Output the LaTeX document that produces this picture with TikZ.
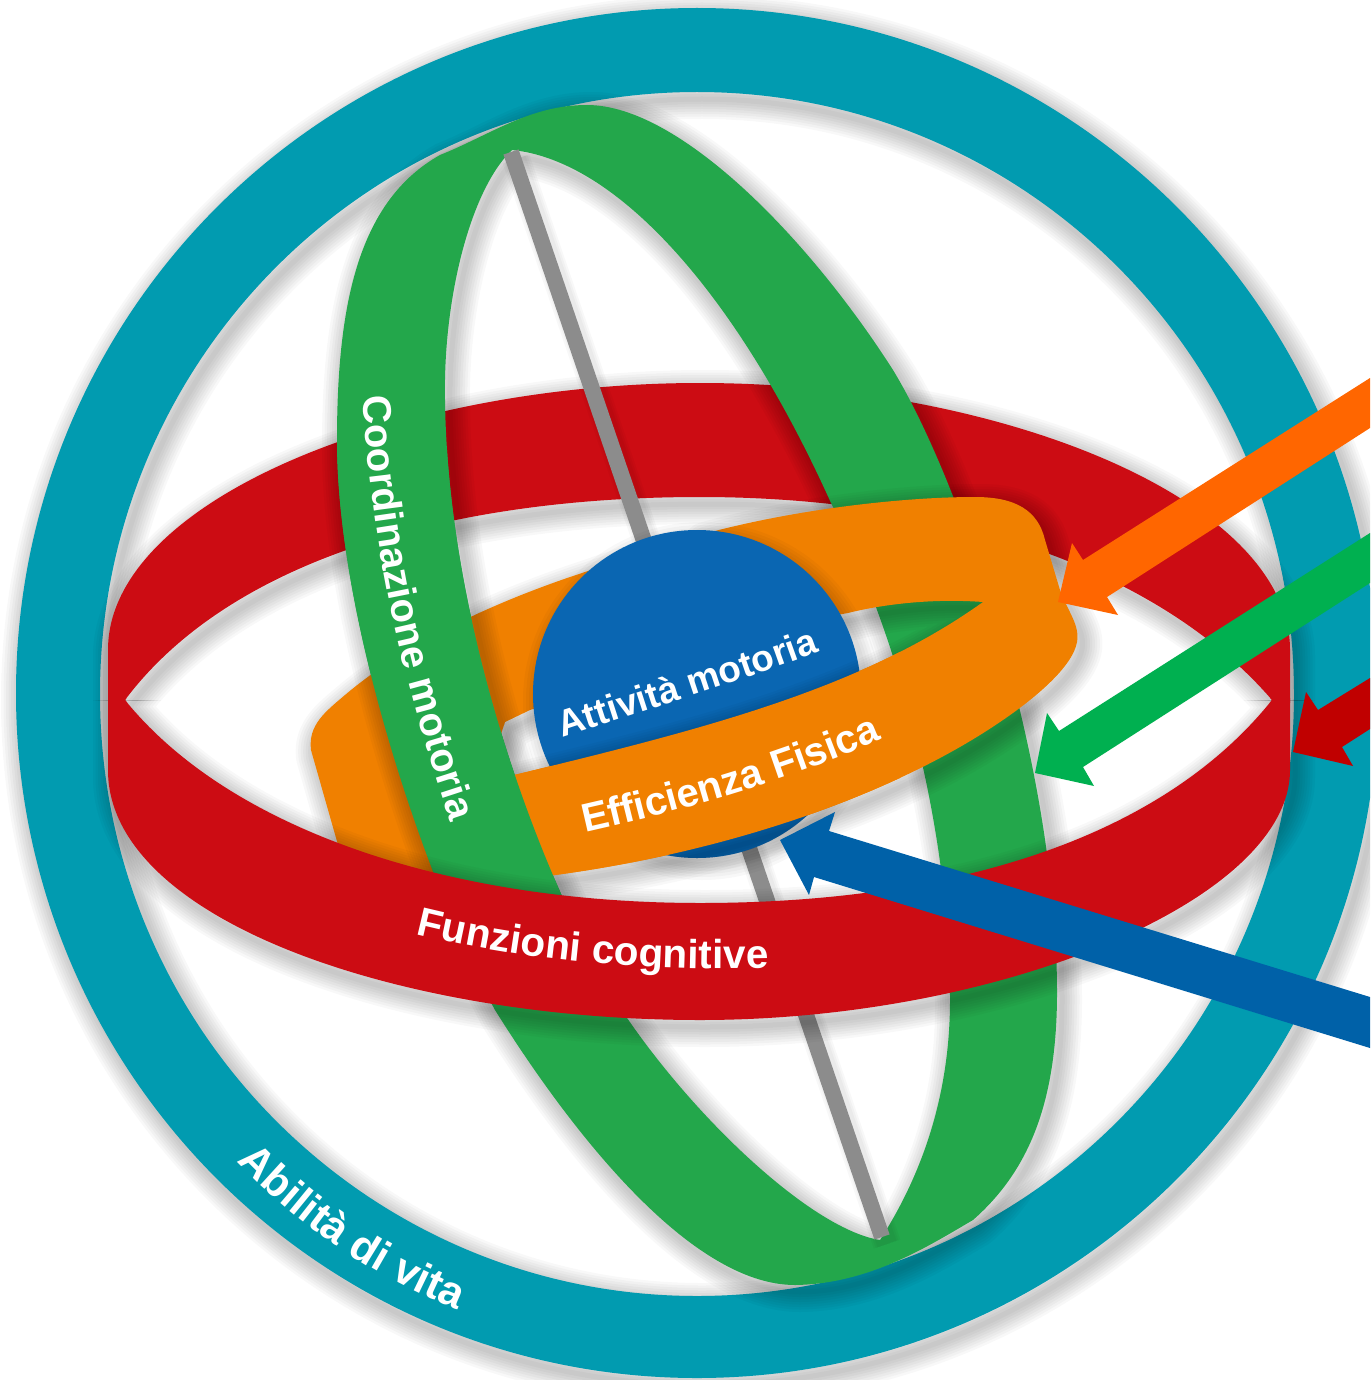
\documentclass[tikz,border=0pt]{standalone}
\usepackage{fontspec}
\setmainfont{Liberation Sans}
\usetikzlibrary{decorations.text}
\definecolor{tealband}{HTML}{019BB0}
\definecolor{redband}{HTML}{CC0C13}
\definecolor{greenband}{HTML}{23A74B}
\definecolor{orangeband}{HTML}{F08000}
\definecolor{blueball}{HTML}{0A66B2}
\definecolor{greyaxis}{HTML}{8C8C8C}
\definecolor{arroworange}{HTML}{FF6600}
\definecolor{arrowgreen}{HTML}{00B050}
\definecolor{arrowred}{HTML}{C00000}
\definecolor{arrowblue}{HTML}{0061A8}
\tikzset{
  shadowink/.style={draw=black,opacity=.028,line join=round,shift={(5,7)}},
  ringfill/.style={even odd rule,draw=none},
  bandlabel/.style={decorate},
}
\newcommand\softshade[1]{\foreach \w in {40,35,30,25,20,15,10,5}{\draw[shadowink,line width=\w pt] #1;}}
\def\tealpath{(697,693) ellipse [x radius=681,y radius=685] (697,694) ellipse [x radius=597,y radius=602]}
\def\redpath{(108,770) -- (108,650) .. controls (108,500) and (400,383) .. (700,383) .. controls (1000,383) and (1290,500) .. (1290,650) -- (1290,770) .. controls (1290,900) and (1000,1020) .. (700,1020) .. controls (400,1020) and (108,920) .. (108,770) -- cycle
 (125,700) .. controls (230,560) and (450,497) .. (700,497) .. controls (950,497) and (1160,570) .. (1272,700) .. controls (1160,840) and (950,903) .. (700,903) .. controls (450,903) and (230,830) .. (125,700) -- cycle}
\def\greenpath{(587,105) .. controls (680,105) and (810,240) .. (893,370) .. controls (960,480) and (1057,760) .. (1057,993) .. controls (1057,1100) and (1030,1170) .. (973,1220) .. controls (930,1245) and (870,1284) .. (795,1285) .. controls (690,1285) and (570,1130) .. (495,1010) .. controls (425,880) and (337,620) .. (337,440) .. controls (337,300) and (360,200) .. (440,155) .. controls (490,135) and (530,105) .. (587,105) -- cycle
 (512,150) .. controls (615,160) and (735,290) .. (831,503) .. controls (900,640) and (950,830) .. (950,1000) .. controls (950,1090) and (925,1170) .. (880,1240) .. controls (815,1230) and (700,1125) .. (625,1015) .. controls (550,900) and (448,640) .. (445,400) .. controls (443,300) and (470,190) .. (512,150) -- cycle}
\def\orangeright{(700,535) .. controls (790,510) and (900,497) .. (975,497) .. controls (1015,497) and (1038,510) .. (1045,540) -- (1060,590) .. controls (1068,612) and (1080,625) .. (1077,642) .. controls (1073,665) and (1040,695) .. (1000,722) .. controls (900,790) and (740,850) .. (555,875) -- (530,878) -- (510,776) .. controls (700,730) and (860,690) .. (983,602) .. controls (930,598) and (880,605) .. (848,613) -- (700,640) -- cycle}
\def\orangeleft{(620,560) -- (582,573) .. controls (500,600) and (410,640) .. (345,695) .. controls (325,712) and (308,725) .. (311,750) -- (348,880) -- (450,885) -- (505,722) -- (530,710) -- (620,680) -- cycle}
\begin{document}
\begin{tikzpicture}[x=1pt,y=-1pt]
\useasboundingbox (0,0) rectangle (1370,1380);
\clip (0,0) rectangle (1370,1380);
\fill[white] (0,0) rectangle (1370,1380);
% teal ring
\softshade{\tealpath}
\fill[tealband,ringfill] \tealpath;
% red ring, back half
\begin{scope}
\clip (0,0) rectangle (1370,700.6);
\softshade{\redpath}
\end{scope}
\begin{scope}
\clip (0,0) rectangle (1370,702);
\fill[redband,ringfill] \redpath;
\end{scope}
% green ring
\softshade{\greenpath}
\fill[greenband,ringfill] \greenpath;
% axis
\foreach \w in {28,24,20}{\draw[shadowink,line width=\w pt] (511,152) -- (882,1237);}
\draw[greyaxis,line width=16pt] (511,152) -- (882,1237);
% orange ribbon
\softshade{\orangeright}
\softshade{\orangeleft}
\fill[orangeband] \orangeright;
\fill[orangeband] \orangeleft;
% ball
\foreach \w in {30,24,18,12,6}{\draw[shadowink,line width=\w pt] (697,694) circle [radius=164];}
\fill[blueball] (697,694) circle [radius=164];
% front of the orange ribbon, over the ball
\begin{scope}
\clip (697,694) circle [radius=164];
\clip (500,726) -- (900,633) -- (900,900) -- (500,900) -- cycle;
\softshade{\orangeright}
\end{scope}
\begin{scope}
\clip (500,726) -- (900,633) -- (900,900) -- (500,900) -- cycle;
\fill[orangeband] \orangeright;
\end{scope}
% left band of the green ring, over the orange ribbon
\begin{scope}
\clip \orangeleft;
\softshade{\greenpath}
\end{scope}
\begin{scope}
\clip (300,450) rectangle (600,900);
\fill[greenband,ringfill] \greenpath;
\end{scope}
% red ring, front half
\begin{scope}
\clip (0,700) rectangle (1370,1380);
\softshade{\redpath}
\end{scope}
\begin{scope}
\clip (0,698) rectangle (1370,1380);
\fill[redband,ringfill] \redpath;
\end{scope}
% labels
\path[bandlabel,decoration={text along path,text align=center,
  text={|\fontsize{40}{40}\selectfont\bfseries\color{white}|Coordinazione motoria}}]
  (361,380) .. controls (373,560) and (402,680) .. (456,838);
\path[bandlabel,decoration={text along path,text align=center,
  text={|\fontsize{40.5}{40.5}\selectfont\bfseries\color{white}|Funzioni cognitive}}]
  (400,930) .. controls (520,962) and (650,972) .. (785,968);
\path[bandlabel,decoration={text along path,text align=center,
  text={|\fontsize{43}{43}\selectfont\bfseries\color{white}|Abilità di vita}}]
  (226,1150) .. controls (294,1225) and (374,1278) .. (472,1316);
\path[bandlabel,decoration={text along path,text align=center,
  text={|\fontsize{37}{37}\selectfont\bfseries\color{white}|Attività motoria}}]
  (550,742) .. controls (640,712) and (730,685) .. (832,647);
\path[bandlabel,decoration={text along path,text align=center,
  text={|\fontsize{40}{40}\selectfont\bfseries\color{white}|Efficienza Fisica}}]
  (575,835) .. controls (680,812) and (790,780) .. (892,735);
% arrows
\fill[arroworange] (1370,378) -- (1083,560) -- (1072,543) -- (1058,602) -- (1118,615) -- (1107,597) -- (1370,428) -- cycle;
\fill[arrowgreen] (1370,533) -- (1059,731) -- (1047,713) -- (1035,773) -- (1094,786) -- (1083,767) -- (1370,583) -- cycle;
\fill[arrowred] (1370,678) -- (1318,710) -- (1306,692) -- (1293,752) -- (1353,766) -- (1342,747) -- (1370,729) -- cycle;
\fill[arrowblue] (1370,997) -- (829,831) -- (835,812) -- (780,840) -- (809,895) -- (814,877) -- (1370,1048) -- cycle;
\end{tikzpicture}
\end{document}
